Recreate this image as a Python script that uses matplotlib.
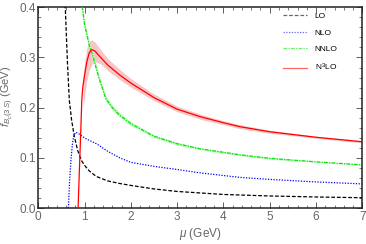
import matplotlib
matplotlib.use('Agg')
import matplotlib.pyplot as plt
from matplotlib.ticker import MultipleLocator, FormatStrFormatter

plt.rcParams['font.family'] = ['Liberation Sans', 'DejaVu Sans']
plt.rcParams['mathtext.fontset'] = 'custom'
plt.rcParams['mathtext.it'] = 'Liberation Sans:italic'
plt.rcParams['mathtext.rm'] = 'Liberation Sans'

# LO
mu_lo = [0.57, 0.60, 0.63, 0.67, 0.72, 0.78, 0.85, 0.93, 1.0, 1.1, 1.25, 1.5, 1.75, 2.0, 2.5, 3.0, 3.5, 4.0, 5.0, 6.0, 7.0]
f_lo = [0.43, 0.36, 0.29, 0.215, 0.175, 0.142, 0.115, 0.095, 0.085, 0.074, 0.063, 0.054, 0.049, 0.045, 0.038, 0.033, 0.030, 0.027, 0.024, 0.022, 0.0205]

# NLO
mu_nlo = [0.65, 0.68, 0.71, 0.74, 0.77, 0.81, 0.86, 0.95, 1.05, 1.26, 1.5, 1.76, 2.0, 2.5, 3.06, 3.5, 4.36, 5.0, 6.0, 7.0]
f_nlo = [0.0, 0.06, 0.10, 0.13, 0.145, 0.151, 0.149, 0.143, 0.137, 0.128, 0.113, 0.100, 0.091, 0.083, 0.076, 0.070, 0.061, 0.057, 0.052, 0.048]

# NNLO
mu_nnlo = [0.93, 0.95, 1.0, 1.1, 1.19, 1.3, 1.46, 1.6, 1.76, 2.0, 2.5, 3.0, 3.5, 4.0, 4.36, 5.0, 6.0, 7.0]
f_nnlo = [0.42, 0.40, 0.365, 0.325, 0.300, 0.262, 0.218, 0.200, 0.185, 0.168, 0.143, 0.128, 0.118, 0.111, 0.106, 0.099, 0.092, 0.086]
f_nnlo_hi = [0.43, 0.41, 0.373, 0.332, 0.307, 0.269, 0.224, 0.205, 0.190, 0.172, 0.146, 0.131, 0.120, 0.113, 0.108, 0.101, 0.093, 0.087]
f_nnlo_lo = [0.41, 0.39, 0.357, 0.318, 0.293, 0.255, 0.212, 0.195, 0.180, 0.164, 0.140, 0.125, 0.116, 0.109, 0.104, 0.097, 0.091, 0.085]

# N3LO
mu_n3lo = [0.86, 0.88, 0.90, 0.92, 0.94, 0.96, 1.0, 1.05, 1.1, 1.15, 1.22, 1.35, 1.5, 1.76, 2.0, 2.5, 3.0, 3.5, 4.0, 4.36, 5.0, 6.0, 7.0]
f_n3lo = [0.0, 0.055, 0.107, 0.160, 0.215, 0.240, 0.265, 0.292, 0.309, 0.316, 0.313, 0.300, 0.285, 0.265, 0.249, 0.220, 0.197, 0.182, 0.170, 0.162, 0.152, 0.141, 0.132]

mu_band = [0.97, 1.0, 1.05, 1.1, 1.15, 1.22, 1.35, 1.5, 1.76, 2.0, 2.5, 3.0, 3.5, 4.0, 4.36, 5.0, 6.0, 7.0]
f_band_hi = [0.26, 0.29, 0.32, 0.332, 0.335, 0.331, 0.315, 0.298, 0.276, 0.258, 0.227, 0.203, 0.187, 0.174, 0.166, 0.155, 0.143, 0.134]
f_band_lo = [0.20, 0.225, 0.255, 0.275, 0.285, 0.292, 0.287, 0.274, 0.256, 0.241, 0.214, 0.192, 0.177, 0.166, 0.158, 0.149, 0.139, 0.130]

fig = plt.figure(figsize=(3.66, 2.44), dpi=100)
ax = fig.add_axes([0.1046, 0.1475, 0.8854, 0.8225])

ax.fill_between(mu_band, f_band_lo, f_band_hi, color='#f9c4c4', lw=0, zorder=1)
ax.fill_between(mu_nnlo, f_nnlo_lo, f_nnlo_hi, color='#c6f7c6', lw=0, zorder=1)

ax.plot(mu_lo, f_lo, color='black', ls=(0, (3, 1.5)), lw=0.9, label='LO', zorder=3)
ax.plot(mu_nlo, f_nlo, color='blue', ls=(0, (1, 1.2)), lw=0.9, label='NLO', zorder=3)
ax.plot(mu_nnlo, f_nnlo, color='#00e600', ls=(0, (3, 1, 1, 1)), lw=0.9, label='NNLO', zorder=3)
ax.plot(mu_n3lo, f_n3lo, color='red', ls='-', lw=0.9, label=r'N$^3$LO', zorder=4)

ax.set_xlim(0, 7)
ax.set_ylim(0, 0.4)
ax.xaxis.set_major_locator(MultipleLocator(1))
ax.xaxis.set_minor_locator(MultipleLocator(0.2))
ax.yaxis.set_major_locator(MultipleLocator(0.1))
ax.yaxis.set_minor_locator(MultipleLocator(0.02))
ax.yaxis.set_major_formatter(FormatStrFormatter('%.1f'))
ax.tick_params(which='both', direction='in', top=True, right=True, colors='#444444',
               labelcolor='#666666', labelsize=8.5, pad=2)
ax.tick_params(which='major', length=4, width=0.6)
ax.tick_params(which='minor', length=2, width=0.5)
for s in ax.spines.values():
    s.set_linewidth(1.1)
    s.set_color('#222222')

ax.set_xlabel(r'$\mu$ (GeV)', fontsize=8.5, color='#666666', labelpad=2)
ax.set_ylabel(r'$f_{B_c(3\,S)}$ (GeV)', fontsize=8, color='#666666')
ax.yaxis.set_label_coords(-0.068, 0.558)

leg = ax.legend(loc='upper left', bbox_to_anchor=(0.755, 0.975), frameon=False,
                fontsize=6, handlelength=2.9, handletextpad=0.9, labelspacing=1.05,
                borderpad=0, borderaxespad=0)
for h in leg.get_lines():
    h.set_alpha(0.6)

fig.savefig('out.png', dpi=100)
